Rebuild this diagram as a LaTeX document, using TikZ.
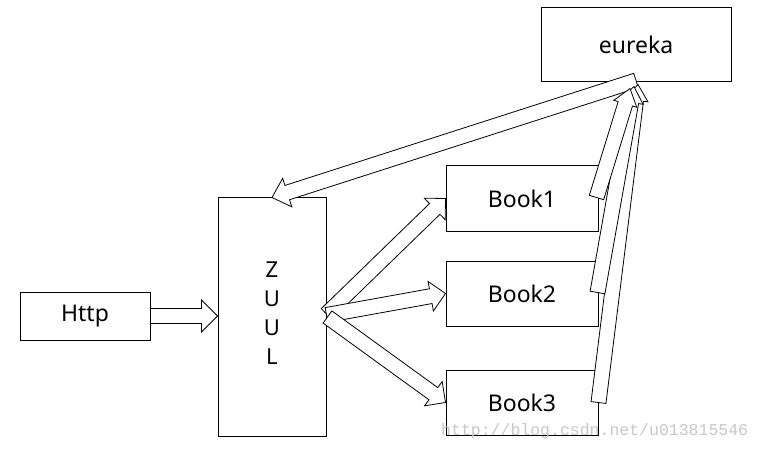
\documentclass[tikz,border=0pt]{standalone}
\usepackage{fontspec}
\setmainfont{Noto Sans}
\newfontfamily\wmfont{Liberation Mono}
\usetikzlibrary{calc}
\definecolor{wmgray}{RGB}{200,200,200}
\tikzset{
  box/.style={draw, line width=1pt, inner sep=0pt, font=\fontsize{23}{28}\selectfont},
  barrow/.style={draw, fill=white, line width=0.8pt, line join=miter}
}
\newcommand\blockarrow[4]{%
  \coordinate (ba) at #1; \coordinate (bb) at #2;
  \coordinate (bh) at ($(bb)!#4!(ba)$);
  \draw[barrow] ($(ba)!7.5pt!90:(bb)$) -- ($(bh)!7.5pt!-90:(ba)$) -- ($(bh)!#3!-90:(ba)$) -- (bb)
    -- ($(bh)!#3!90:(ba)$) -- ($(bh)!7.5pt!90:(ba)$) -- ($(ba)!7.5pt!-90:(bb)$) -- cycle;
}
\begin{document}
\begin{tikzpicture}[x=1pt,y=-1pt]
\useasboundingbox[fill=white] (0,0) rectangle (760,449);
\node[box, minimum width=190pt, minimum height=74pt] (eureka) at (636,45) {eureka};
\node[box, minimum width=130pt, minimum height=48pt] (http) at (85,316) {Http};
\node[box, minimum width=108pt, minimum height=238pt] (zuul) at (272,317) {};
\node[font=\fontsize{22}{29}\selectfont, align=center, inner sep=0pt] (zuultext) at (272,313) {Z\\U\\U\\L};
\node[box, minimum width=152pt, minimum height=65pt] (book1) at (522,198.5) {Book1};
\node[box, minimum width=152pt, minimum height=65pt] (book2) at (522,293.5) {Book2};
\node[box, minimum width=152pt, minimum height=65pt] (book3) at (522,402.5) {Book3};
\node[anchor=base west, inner sep=0pt, text=wmgray, font=\wmfont\fontsize{16.5}{18}\selectfont] (wm) at (441,435) {http://blog.csdn.net/u013815546};
% arrows
\blockarrow{(http.east)}{(http.east -| zuul.west)}{16pt}{16pt}
\blockarrow{($(zuul.east)+(0,-3)$)}{(book1.west)}{15pt}{15pt}
\blockarrow{($(zuul.east)+(0,-2)$)}{(book2.west)}{15pt}{15pt}
\blockarrow{($(zuul.east)+(1,0)$)}{(book3.west)}{15pt}{15pt}
\blockarrow{($(eureka.south)+(0,-2)$)}{(zuul.north)}{15pt}{16pt}
\blockarrow{(book3.east)}{($(eureka.south)+(2,2)$)}{12pt}{16pt}
\blockarrow{($(book2.east)+(-1,-1)$)}{($(eureka.south)+(-2,4)$)}{12pt}{16pt}
\blockarrow{($(book1.east)+(-2,-1)$)}{($(eureka.south)+(-6,6)$)}{12pt}{16pt}
\end{tikzpicture}
\end{document}
